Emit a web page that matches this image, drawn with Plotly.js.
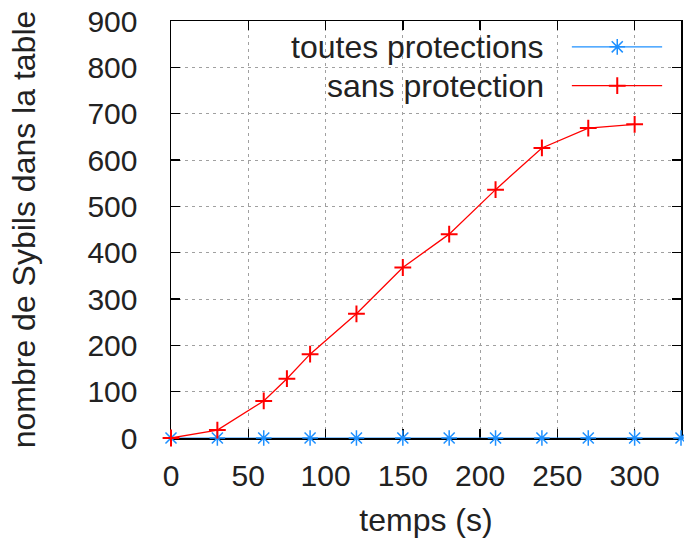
<!DOCTYPE html>
<html>
<head>
<meta charset="utf-8">
<script src="https://cdn.plot.ly/plotly-3.0.1.min.js"></script>
<style>html,body{margin:0;padding:0;background:#fff;}#chart{width:684px;height:549px;}</style>
</head>
<body>
<div id="chart"></div>
<script>
// Data
const tempsToutes = [0, 30, 60, 90, 120, 150, 180, 210, 240, 270, 300, 330];
const sybilsToutes = [0, 0, 0, 0, 0, 0, 0, 0, 0, 0, 0, 0];
const tempsSans = [0, 30, 60, 75, 90, 120, 150, 180, 210, 240, 270, 300];
const sybilsSans = [0, 17, 80, 128, 181, 268, 368, 440, 536, 626, 669, 677];
const seriesNames = ["toutes protections", "sans protection"];
const seriesColors = ["#1e90ff", "#ff0000"];
const seriesSymbols = ["asterisk-open", "cross-thin-open"];
const xTickVals = [0, 50, 100, 150, 200, 250, 300];
const yTickVals = [0, 100, 200, 300, 400, 500, 600, 700, 800, 900];

const FONT = "Liberation Sans, Arial, sans-serif";
const txt = {family: FONT, size: 30, color: "#222"};
const bigTxt = {family: FONT, size: 32, color: "#222"};

const traces = [
  {x: tempsToutes, y: sybilsToutes, mode: "lines+markers", name: seriesNames[0],
   line: {color: seriesColors[0], width: 1},
   marker: {symbol: seriesSymbols[0], size: 13, color: seriesColors[0], line: {color: seriesColors[0], width: 1.5}},
   cliponaxis: false, showlegend: false},
  {x: tempsSans, y: sybilsSans, mode: "lines+markers", name: seriesNames[1],
   line: {color: seriesColors[1], width: 1.3},
   marker: {symbol: seriesSymbols[1], size: 12, color: seriesColors[1], line: {color: seriesColors[1], width: 2}},
   cliponaxis: false, showlegend: false}
];

// custom gnuplot-style legend (text right-aligned, sample on the right)
const legY = [0.938, 0.845];
const annotations = [];
seriesNames.forEach((n, i) => {
  traces.push({x: [0.786, 0.875, 0.963], y: [legY[i], legY[i], legY[i]],
    xaxis: "x2", yaxis: "y2", mode: "lines", line: {color: seriesColors[i], width: 1.3},
    showlegend: false, hoverinfo: "skip", cliponaxis: false});
  traces.push({x: [0.875], y: [legY[i]], xaxis: "x2", yaxis: "y2", mode: "markers",
    marker: {symbol: seriesSymbols[i], size: i === 0 ? 13 : 12, color: seriesColors[i],
      line: {color: seriesColors[i], width: i === 0 ? 1.5 : 2}},
    showlegend: false, hoverinfo: "skip", cliponaxis: false});
  annotations.push({xref: "x2", yref: "y2", x: 0.735, y: legY[i], text: n, showarrow: false,
    xanchor: "right", yanchor: "middle", font: bigTxt});
});

const axisCommon = {
  showline: true, linecolor: "#000", linewidth: 1.5, mirror: "ticks",
  ticks: "inside", ticklen: 9, tickwidth: 1.5, tickcolor: "#000",
  showgrid: true, gridcolor: "#a0a0a0", gridwidth: 1, griddash: "3px,4px",
  zeroline: false, tickfont: txt, layer: "below traces"
};

const layout = {
  width: 684, height: 549,
  margin: {l: 171, r: 3, t: 21, b: 111},
  paper_bgcolor: "#fff", plot_bgcolor: "#fff",
  showlegend: false,
  font: txt,
  xaxis: Object.assign({}, axisCommon, {
    range: [0, 330], tickvals: xTickVals, ticklabelstandoff: 10,
    title: {text: "temps (s)", font: bigTxt, standoff: 18}
  }),
  yaxis: Object.assign({}, axisCommon, {
    range: [0, 900], tickvals: yTickVals, ticklabelstandoff: 26,
    title: {text: "nombre de Sybils dans la table", font: bigTxt, standoff: 42}
  }),
  xaxis2: {overlaying: "x", range: [0, 1], visible: false, fixedrange: true},
  yaxis2: {overlaying: "y", range: [0, 1], visible: false, fixedrange: true},
  annotations: annotations
};

Plotly.newPlot("chart", traces, layout, {displayModeBar: false, staticPlot: true});
</script>
</body>
</html>
